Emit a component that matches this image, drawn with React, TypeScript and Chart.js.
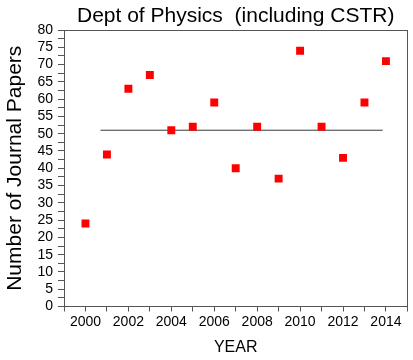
import React, { useEffect, useRef } from "react";
import { Chart, registerables } from "chart.js";

Chart.register(...registerables);

const years = [2000, 2001, 2002, 2003, 2004, 2005, 2006, 2007, 2008, 2009, 2010, 2011, 2012, 2013, 2014];
const papers = [24, 44, 63, 67, 51, 52, 59, 40, 52, 37, 74, 52, 43, 59, 71];
const meanValue = 51;
const meanLineStart = 2000.7;
const meanLineEnd = 2013.85;
const titleText = "Dept of Physics  (including CSTR)";
const yTitle = "Number of Journal Papers";
const xTitle = "YEAR";

const FONT = "'Liberation Sans', Arial, sans-serif";
const AXIS = "#555555";

export default function App() {
  const ref = useRef<HTMLCanvasElement | null>(null);

  useEffect(() => {
    if (!ref.current) return;
    const chart = new Chart(ref.current, {
      type: "scatter",
      data: {
        datasets: [
          {
            label: "Papers",
            data: years.map((y, i) => ({ x: y, y: papers[i] })),
            pointStyle: "rect",
            pointRadius: 5.6,
            pointHoverRadius: 5.6,
            backgroundColor: "#ff0000",
            borderWidth: 0,
            order: 0,
          },
          {
            label: "Mean",
            data: [
              { x: meanLineStart, y: meanValue },
              { x: meanLineEnd, y: meanValue },
            ],
            showLine: true,
            borderColor: "#3a3a3a",
            borderWidth: 1,
            pointRadius: 0,
            order: 1,
          },
        ],
      },
      options: {
        animation: false,
        responsive: true,
        maintainAspectRatio: false,
        layout: { padding: 0 },
        plugins: {
          legend: { display: false },
          title: { display: false },
          tooltip: { enabled: false },
        },
        scales: {
          x: {
            type: "linear",
            position: "bottom",
            min: 1999,
            max: 2015,
            afterFit: (s: any) => {
              s.height = 53.5;
            },
            ticks: {
              stepSize: 1,
              autoSkip: false,
              maxRotation: 0,
              padding: 2,
              color: "#000",
              font: { family: FONT, size: 14 },
              callback: (v: any) => (Number(v) % 2 === 0 ? String(v) : ""),
            },
            grid: { display: true, drawOnChartArea: false, drawTicks: true, tickLength: 5, tickColor: AXIS },
            border: { display: true, color: AXIS, width: 1 },
            title: { display: true, text: xTitle, color: "#000", font: { family: FONT, size: 16 }, padding: { top: 0, bottom: 3 } },
          },
          y: {
            type: "linear",
            position: "left",
            min: 0,
            max: 80,
            afterFit: (s: any) => {
              s.width = 64;
            },
            ticks: {
              stepSize: 2.5,
              autoSkip: false,
              padding: 5,
              color: "#000",
              font: { family: FONT, size: 14 },
              callback: (v: any) => (Number(v) % 5 === 0 ? String(v) : ""),
            },
            grid: { display: true, drawOnChartArea: false, drawTicks: true, tickLength: 6, tickColor: AXIS },
            border: { display: true, color: AXIS, width: 1 },
            title: { display: true, text: yTitle, color: "#000", font: { family: FONT, size: 21 }, padding: { top: 3, bottom: 0 } },
          },
          x2: {
            type: "linear",
            position: "top",
            display: true,
            min: 1999,
            max: 2015,
            afterFit: (s: any) => {
              s.height = 30;
            },
            ticks: { display: false },
            grid: { display: false, drawTicks: false },
            border: { display: true, color: AXIS, width: 1 },
            title: { display: true, text: titleText, color: "#000", font: { family: FONT, size: 21 }, padding: { top: 4, bottom: 0 } },
          },
          y2: {
            type: "linear",
            position: "right",
            display: true,
            min: 0,
            max: 80,
            afterFit: (s: any) => {
              s.width = 5.5;
            },
            ticks: { display: false },
            grid: { display: false, drawTicks: false },
            border: { display: true, color: AXIS, width: 1 },
          },
        },
      },
    });
    return () => chart.destroy();
  }, []);

  return (
    <div style={{ position: "fixed", left: 0, top: 0, width: 413, height: 360, background: "#fff" }}>
      <canvas ref={ref} />
    </div>
  );
}
